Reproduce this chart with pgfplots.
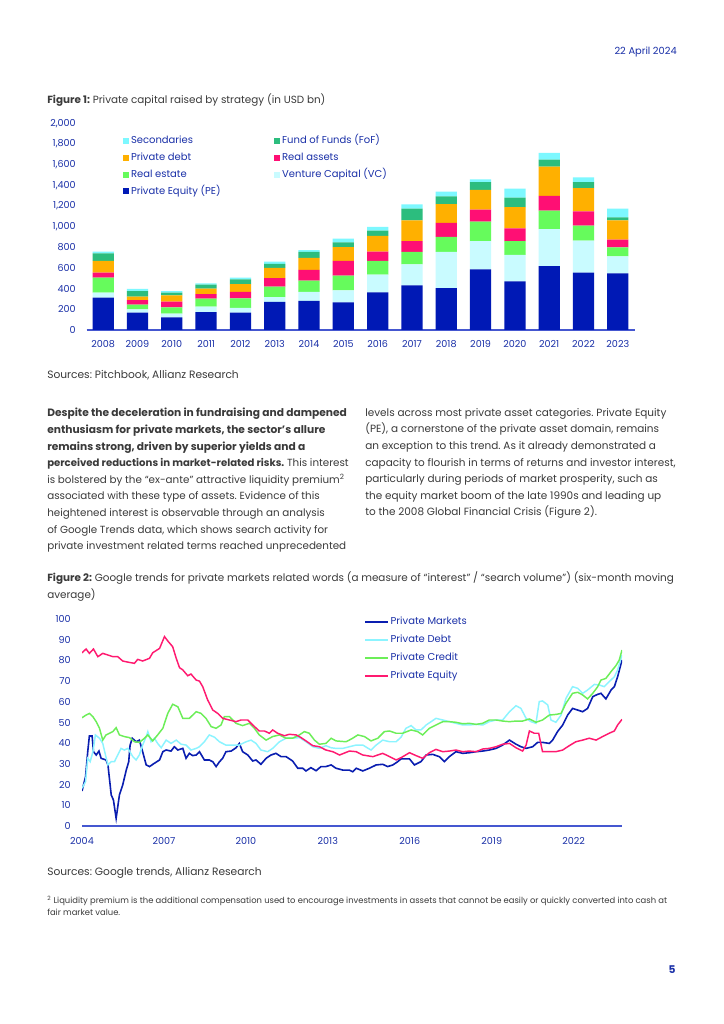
\documentclass[border=0pt]{standalone}
\usepackage{fontspec}
\setmainfont{Poppins}
\usepackage{pgfplots}
\pgfplotsset{compat=1.18}
\definecolor{ablue}{HTML}{1A30A8}
\definecolor{txt}{HTML}{3A3A3A}
\definecolor{axline}{HTML}{4557D0}
\definecolor{cPE}{HTML}{0019B5}
\definecolor{cVC}{HTML}{C9FBFF}
\definecolor{cRE}{HTML}{66FB5C}
\definecolor{cRA}{HTML}{FF0F74}
\definecolor{cPD}{HTML}{FFB000}
\definecolor{cFoF}{HTML}{2CBD7E}
\definecolor{cSec}{HTML}{7DF8FF}
\definecolor{lPM}{HTML}{0A1EB0}
\definecolor{lPD}{HTML}{8CF4FF}
\definecolor{lPC}{HTML}{6CEE58}
\definecolor{lPE}{HTML}{FF1A70}
\frenchspacing
\begin{document}
\begin{tikzpicture}[x=0.75pt,y=0.75pt]
\path[use as bounding box, fill=white] (0,0) rectangle (724,1024);
% header
\node[anchor=east, inner sep=0pt, text=ablue, font=\fontsize{7.4}{8}\selectfont] at (677,972) {22 April 2024};
\node[anchor=west, inner sep=0pt, text=txt, font=\fontsize{7.8}{10}\selectfont] at (47,924) {\textbf{Figure 1:} Private capital raised by strategy (in USD bn)};
% chart 1
\begin{axis}[at={(65.025pt,520.5pt)}, anchor=south west, scale only axis,
  width=411.2pt, height=155pt,
  ybar stacked, bar width=0.62,
  xmin=-0.48, xmax=15.5, ymin=0, ymax=2000,
  ytick={0,200,...,2000}, xtick={0,...,15},
  xticklabels={2008,2009,2010,2011,2012,2013,2014,2015,2016,2017,2018,2019,2020,2021,2022,2023},
  axis x line*=bottom, axis y line*=left,
  y axis line style={draw=none},
  x axis line style={draw=axline, line width=1pt, -},
  major tick length=0pt,
  /pgf/number format/assume math mode=true,
  /pgf/number format/1000 sep={,},
  ticklabel style={text=ablue, font=\fontsize{7.2}{8}\selectfont},
  yticklabel style={anchor=east, inner sep=0pt, xshift=-8pt},
  xticklabel style={anchor=base, inner sep=0pt, yshift=-13.3pt},
  legend columns=2, reverse legend,
  legend style={draw=none, fill=none, at={(0.066,0.95)}, anchor=north west,
    inner sep=0pt, font=\fontsize{7.5}{9}\selectfont, text=ablue,
    row sep=2pt, /tikz/every even column/.append style={column sep=39pt},
    nodes={inner sep=1.3pt, text height=6pt, text depth=2pt}},
  legend image code/.code={\fill[#1] (0pt,-2.3pt) rectangle (4.6pt,2.3pt);},
  legend cell align=left,
]
\addplot[fill=cPE, draw=none] coordinates {(0,313)(1,168)(2,123)(3,174)(4,168)(5,271)(6,281)(7,268)(8,365)(9,432)(10,406)(11,587)(12,471)(13,619)(14,555)(15,548)};
\addlegendentry{Private Equity (PE)}
\addplot[fill=cVC, draw=none] coordinates {(0,48)(1,32)(2,35)(3,52)(4,45)(5,48)(6,87)(7,116)(8,171)(9,204)(10,349)(11,274)(12,255)(13,358)(14,310)(15,165)};
\addlegendentry{Venture Capital (VC)}
\addplot[fill=cRE, draw=none] coordinates {(0,145)(1,45)(2,61)(3,77)(4,93)(5,100)(6,109)(7,142)(8,132)(9,119)(10,145)(11,187)(12,135)(13,178)(14,145)(15,87)};
\addlegendentry{Real estate}
\addplot[fill=cRA, draw=none] coordinates {(0,49)(1,45)(2,55)(3,45)(4,62)(5,84)(6,104)(7,142)(8,90)(9,106)(10,136)(11,117)(12,123)(13,142)(14,138)(15,74)};
\addlegendentry{Real assets}
\addplot[fill=cPD, draw=none] coordinates {(0,113)(1,33)(2,61)(3,52)(4,77)(5,97)(6,116)(7,135)(8,152)(9,200)(10,183)(11,190)(12,206)(13,284)(14,226)(15,187)};
\addlegendentry{Private debt}
\addplot[fill=cFoF, draw=none] coordinates {(0,74)(1,54)(2,26)(3,39)(4,45)(5,39)(6,58)(7,45)(8,51)(9,113)(10,75)(11,77)(12,91)(13,67)(14,58)(15,29)};
\addlegendentry{Fund of Funds (FoF)}
\addplot[fill=cSec, draw=none] coordinates {(0,16)(1,20)(2,16)(3,13)(4,16)(5,22)(6,19)(7,36)(8,36)(9,42)(10,45)(11,26)(12,87)(13,65)(14,45)(15,84)};
\addlegendentry{Secondaries}
\end{axis}
\node[anchor=west, inner sep=0pt, text=txt, font=\fontsize{8}{10}\selectfont] at (47,649) {Sources: Pitchbook, Allianz Research};
% paragraphs
\node[anchor=north west, inner sep=0pt, text=txt, align=left, font=\fontsize{7.75}{12.45}\selectfont] at (47,616) {%
{\fontsize{8}{12.45}\selectfont\bfseries Despite the deceleration in fundraising and dampened}\\
{\fontsize{8}{12.45}\selectfont\bfseries enthusiasm for private markets, the sector’s allure}\\
{\fontsize{8}{12.45}\selectfont\bfseries remains strong, driven by superior yields and a}\\
{\fontsize{7.6}{12.45}\selectfont\bfseries perceived reductions in market-related risks.} This interest\\
is bolstered by the “ex-ante” attractive liquidity premium\textsuperscript{2}\\
associated with these type of assets. Evidence of this\\
heightened interest is observable through an analysis\\
of Google Trends data, which shows search activity for\\
private investment related terms reached unprecedented};
\node[anchor=north west, inner sep=0pt, text=txt, align=left, font=\fontsize{7.85}{12.45}\selectfont] at (365,616) {%
levels across most private asset categories. Private Equity\\
(PE), a cornerstone of the private asset domain, remains\\
an exception to this trend. As it already demonstrated a\\
capacity to flourish in terms of returns and investor interest,\\
particularly during periods of market prosperity, such as\\
the equity market boom of the late 1990s and leading up\\
to the 2008 Global Financial Crisis (Figure 2).};
\node[anchor=north west, inner sep=0pt, text=txt, align=left, font=\fontsize{7.8}{12.75}\selectfont] at (47,453) {%
\textbf{Figure 2:} Google trends for private markets related words (a measure of “interest” / “search volume”) (six-month moving\\
average)};
% chart 2
\begin{axis}[at={(61.5pt,148.5pt)}, anchor=south west, scale only axis,
  width=405pt, height=155.25pt,
  xmin=2004, xmax=2023.77, ymin=0, ymax=100,
  ytick={0,10,...,100}, xtick={2004,2007,...,2022},
  axis x line*=bottom, axis y line*=left,
  y axis line style={draw=none},
  x axis line style={draw=axline, line width=1pt, -},
  major tick length=0pt,
  /pgf/number format/assume math mode=true,
  xticklabel style={/pgf/number format/1000 sep={}, anchor=base, inner sep=0pt, yshift=-14pt},
  ticklabel style={text=ablue, font=\fontsize{7.2}{8}\selectfont},
  yticklabel style={anchor=east, inner sep=0pt, xshift=-8.25pt},
  legend style={draw=none, fill=none, at={(0.522,1.02)}, anchor=north west,
    inner sep=0pt, font=\fontsize{7.5}{9}\selectfont, text=ablue, row sep=2.75pt,
    nodes={inner sep=1.3pt, text height=6pt, text depth=2pt}},
  legend cell align=left,
]
\addplot[draw=lPM, line width=1.2pt, legend image code/.code={\draw[draw=lPM, line width=1.6pt] (0pt,0pt) -- (17pt,0pt);}] coordinates {(2004.00,16.9)(2004.13,23.8)(2004.21,35.9)(2004.27,43.5)(2004.37,43.5)(2004.42,35.9)(2004.52,34.3)(2004.62,36.2)(2004.70,32.7)(2004.88,31.9)(2004.95,29.5)(2005.07,15.0)(2005.15,12.6)(2005.25,3.7)(2005.37,15.0)(2005.49,19.8)(2005.62,27.0)(2005.71,31.0)(2005.76,39.0)(2005.84,42.4)(2005.98,40.7)(2006.10,41.5)(2006.22,35.9)(2006.35,29.5)(2006.47,28.7)(2006.65,30.3)(2006.84,31.9)(2006.96,35.9)(2007.08,36.7)(2007.26,36.2)(2007.38,38.3)(2007.51,36.7)(2007.69,37.5)(2007.81,32.7)(2007.93,35.1)(2008.05,34.0)(2008.18,34.3)(2008.30,35.9)(2008.48,31.9)(2008.66,31.9)(2008.79,31.0)(2008.91,28.7)(2009.03,31.0)(2009.15,32.7)(2009.27,35.9)(2009.46,36.2)(2009.64,37.8)(2009.76,39.9)(2009.88,35.9)(2010.07,34.3)(2010.25,31.4)(2010.37,31.9)(2010.55,29.8)(2010.74,32.7)(2010.92,34.3)(2011.10,35.1)(2011.29,33.5)(2011.47,33.5)(2011.71,31.4)(2011.90,27.9)(2012.08,27.9)(2012.20,26.6)(2012.38,28.2)(2012.57,26.7)(2012.75,28.7)(2012.93,28.7)(2013.12,29.5)(2013.30,27.9)(2013.55,27.0)(2013.79,27.0)(2013.91,26.2)(2014.04,27.9)(2014.28,26.6)(2014.52,27.9)(2014.77,29.5)(2015.01,29.8)(2015.19,28.7)(2015.38,29.5)(2015.56,31.1)(2015.68,32.4)(2015.99,32.4)(2016.17,29.5)(2016.41,31.1)(2016.60,34.3)(2016.84,34.6)(2017.08,33.5)(2017.27,31.1)(2017.45,33.5)(2017.69,35.9)(2017.94,35.1)(2018.18,35.4)(2018.43,35.9)(2018.67,36.2)(2018.91,36.7)(2019.16,37.5)(2019.40,39.1)(2019.65,41.5)(2019.89,39.5)(2020.07,38.3)(2020.26,37.5)(2020.50,38.3)(2020.68,40.4)(2020.86,40.4)(2021.11,39.9)(2021.23,41.5)(2021.41,45.6)(2021.60,48.8)(2021.78,53.6)(2021.96,56.8)(2022.15,56.0)(2022.33,55.2)(2022.51,56.8)(2022.70,62.5)(2022.88,63.6)(2023.00,64.1)(2023.18,61.4)(2023.37,65.7)(2023.49,67.3)(2023.61,72.1)(2023.77,80.2)};
\addlegendentry{Private Markets}
\addplot[draw=lPD, line width=1.1pt, legend image code/.code={\draw[draw=lPD, line width=1.5pt] (0pt,0pt) -- (17pt,0pt);}] coordinates {(2004.00,18.2)(2004.13,21.4)(2004.21,32.7)(2004.30,31.1)(2004.40,35.9)(2004.49,44.0)(2004.64,42.4)(2004.76,39.9)(2004.86,34.3)(2004.95,29.5)(2005.07,31.1)(2005.19,31.1)(2005.31,34.3)(2005.43,37.5)(2005.55,36.7)(2005.68,37.5)(2005.86,33.5)(2005.98,31.9)(2006.10,34.3)(2006.22,39.1)(2006.35,43.2)(2006.41,45.6)(2006.53,40.7)(2006.65,42.4)(2006.77,39.9)(2006.90,37.8)(2007.08,41.5)(2007.26,39.9)(2007.45,41.5)(2007.63,39.5)(2007.81,39.1)(2007.99,36.7)(2008.18,37.5)(2008.30,38.3)(2008.48,40.7)(2008.66,44.0)(2008.85,42.9)(2009.03,40.7)(2009.27,39.1)(2009.52,39.1)(2009.76,39.1)(2010.01,40.7)(2010.19,41.5)(2010.37,39.9)(2010.55,36.7)(2010.80,35.9)(2010.98,37.5)(2011.23,40.7)(2011.47,42.4)(2011.71,42.4)(2011.96,42.7)(2012.20,40.7)(2012.45,38.3)(2012.69,37.5)(2012.93,38.8)(2013.12,37.8)(2013.30,37.5)(2013.55,37.5)(2013.79,38.3)(2014.04,39.1)(2014.28,39.1)(2014.58,36.7)(2014.77,39.1)(2015.01,41.5)(2015.26,40.7)(2015.50,40.7)(2015.68,42.9)(2015.86,47.2)(2016.05,48.5)(2016.23,46.4)(2016.41,46.4)(2016.60,48.8)(2016.78,50.4)(2016.96,52.0)(2017.21,51.2)(2017.45,50.4)(2017.69,49.6)(2017.94,48.8)(2018.18,48.8)(2018.43,49.1)(2018.67,48.8)(2018.91,50.4)(2019.16,51.2)(2019.40,51.2)(2019.65,55.2)(2019.89,58.1)(2020.07,56.8)(2020.26,52.0)(2020.44,50.4)(2020.62,49.6)(2020.74,60.1)(2020.86,60.4)(2021.05,58.5)(2021.17,51.2)(2021.35,50.1)(2021.54,53.6)(2021.72,61.7)(2021.96,67.3)(2022.15,66.5)(2022.33,64.1)(2022.51,65.7)(2022.76,68.4)(2022.94,68.1)(2023.12,67.3)(2023.30,69.7)(2023.49,72.1)(2023.61,75.4)(2023.77,82.6)};
\addlegendentry{Private Debt}
\addplot[draw=lPC, line width=1.1pt, legend image code/.code={\draw[draw=lPC, line width=1.5pt] (0pt,0pt) -- (17pt,0pt);}] coordinates {(2004.00,52.3)(2004.15,53.6)(2004.27,54.4)(2004.40,52.8)(2004.52,50.4)(2004.64,47.2)(2004.76,41.5)(2004.88,44.0)(2005.01,44.8)(2005.13,45.6)(2005.25,47.5)(2005.37,44.0)(2005.55,43.2)(2005.74,42.7)(2005.92,40.7)(2006.10,40.4)(2006.29,42.4)(2006.41,44.0)(2006.59,41.1)(2006.77,44.0)(2006.96,47.2)(2007.14,54.4)(2007.32,58.8)(2007.51,57.6)(2007.69,52.0)(2007.93,52.0)(2008.18,55.2)(2008.36,54.4)(2008.54,52.0)(2008.73,48.0)(2008.91,47.2)(2009.09,48.8)(2009.21,52.8)(2009.40,52.8)(2009.64,49.6)(2009.88,48.5)(2010.13,49.6)(2010.31,47.2)(2010.49,44.0)(2010.74,41.5)(2010.98,43.2)(2011.23,44.0)(2011.47,42.4)(2011.71,42.4)(2011.96,44.0)(2012.14,45.6)(2012.32,44.8)(2012.51,41.5)(2012.69,39.5)(2012.93,39.9)(2013.12,42.4)(2013.30,41.1)(2013.67,40.7)(2013.91,42.4)(2014.10,44.0)(2014.34,43.2)(2014.58,41.1)(2014.83,42.4)(2015.07,45.6)(2015.26,45.9)(2015.50,44.8)(2015.74,44.8)(2016.05,46.4)(2016.29,45.6)(2016.47,44.0)(2016.72,47.2)(2016.96,48.8)(2017.21,50.4)(2017.45,50.4)(2017.69,50.1)(2017.94,49.4)(2018.18,49.6)(2018.43,49.1)(2018.67,49.6)(2018.91,51.2)(2019.16,51.2)(2019.40,50.7)(2019.65,50.4)(2019.89,50.7)(2020.13,50.7)(2020.38,51.7)(2020.62,50.1)(2020.86,51.2)(2021.11,53.6)(2021.35,53.9)(2021.54,54.4)(2021.72,59.3)(2021.96,64.1)(2022.15,64.6)(2022.33,63.3)(2022.51,61.4)(2022.70,64.1)(2022.88,67.3)(2023.00,70.5)(2023.18,71.3)(2023.37,74.6)(2023.55,77.5)(2023.67,80.2)(2023.77,85.0)};
\addlegendentry{Private Credit}
\addplot[draw=lPE, line width=1.1pt, legend image code/.code={\draw[draw=lPE, line width=1.5pt] (0pt,0pt) -- (17pt,0pt);}] coordinates {(2004.00,83.7)(2004.15,85.5)(2004.27,83.4)(2004.42,85.5)(2004.58,81.8)(2004.76,83.4)(2004.95,82.6)(2005.13,81.8)(2005.31,81.8)(2005.49,79.7)(2005.74,79.0)(2005.92,78.6)(2006.04,80.5)(2006.22,79.7)(2006.47,81.0)(2006.59,83.7)(2006.84,85.8)(2007.02,91.5)(2007.14,89.4)(2007.32,86.6)(2007.45,81.0)(2007.57,76.5)(2007.69,75.4)(2007.87,72.6)(2007.99,73.4)(2008.18,70.5)(2008.30,70.0)(2008.42,67.3)(2008.60,60.9)(2008.79,56.0)(2008.97,54.4)(2009.15,52.0)(2009.40,51.2)(2009.64,50.4)(2009.82,51.2)(2010.07,51.2)(2010.25,48.8)(2010.49,45.9)(2010.68,45.9)(2010.86,44.8)(2010.98,46.4)(2011.16,44.8)(2011.41,43.6)(2011.59,44.3)(2011.84,44.0)(2012.02,42.7)(2012.20,41.1)(2012.45,38.8)(2012.69,38.3)(2012.93,36.7)(2013.18,35.9)(2013.43,34.3)(2013.79,36.2)(2014.04,35.9)(2014.28,34.3)(2014.65,33.5)(2015.01,35.1)(2015.26,33.5)(2015.50,31.9)(2015.68,33.0)(2015.99,35.4)(2016.23,34.0)(2016.47,32.7)(2016.72,35.4)(2016.96,37.0)(2017.21,35.9)(2017.45,36.2)(2017.69,36.7)(2017.94,35.9)(2018.18,36.2)(2018.43,35.9)(2018.67,37.2)(2018.91,37.5)(2019.16,38.3)(2019.40,39.5)(2019.65,39.9)(2019.89,37.8)(2020.13,36.2)(2020.26,39.1)(2020.38,45.9)(2020.56,44.8)(2020.72,44.8)(2020.86,35.9)(2021.11,35.9)(2021.35,35.9)(2021.60,36.7)(2021.84,38.8)(2022.08,40.7)(2022.33,41.5)(2022.57,42.4)(2022.82,41.5)(2023.06,43.2)(2023.30,44.8)(2023.49,45.9)(2023.61,48.8)(2023.77,51.5)};
\addlegendentry{Private Equity}
\end{axis}
\node[anchor=west, inner sep=0pt, text=txt, font=\fontsize{8}{10}\selectfont] at (47,151) {Sources: Google trends, Allianz Research};
\node[anchor=north west, inner sep=0pt, text=txt, align=left, font=\fontsize{6.3}{9}\selectfont] at (47,128) {%
\textsuperscript{2} Liquidity premium is the additional compensation used to encourage investments in assets that cannot be easily or quickly converted into cash at\\
fair market value.};
\node[anchor=center, inner sep=0pt, text=ablue, font=\fontsize{8}{10}\selectfont\bfseries] at (672,54) {5};
\end{tikzpicture}
\end{document}
